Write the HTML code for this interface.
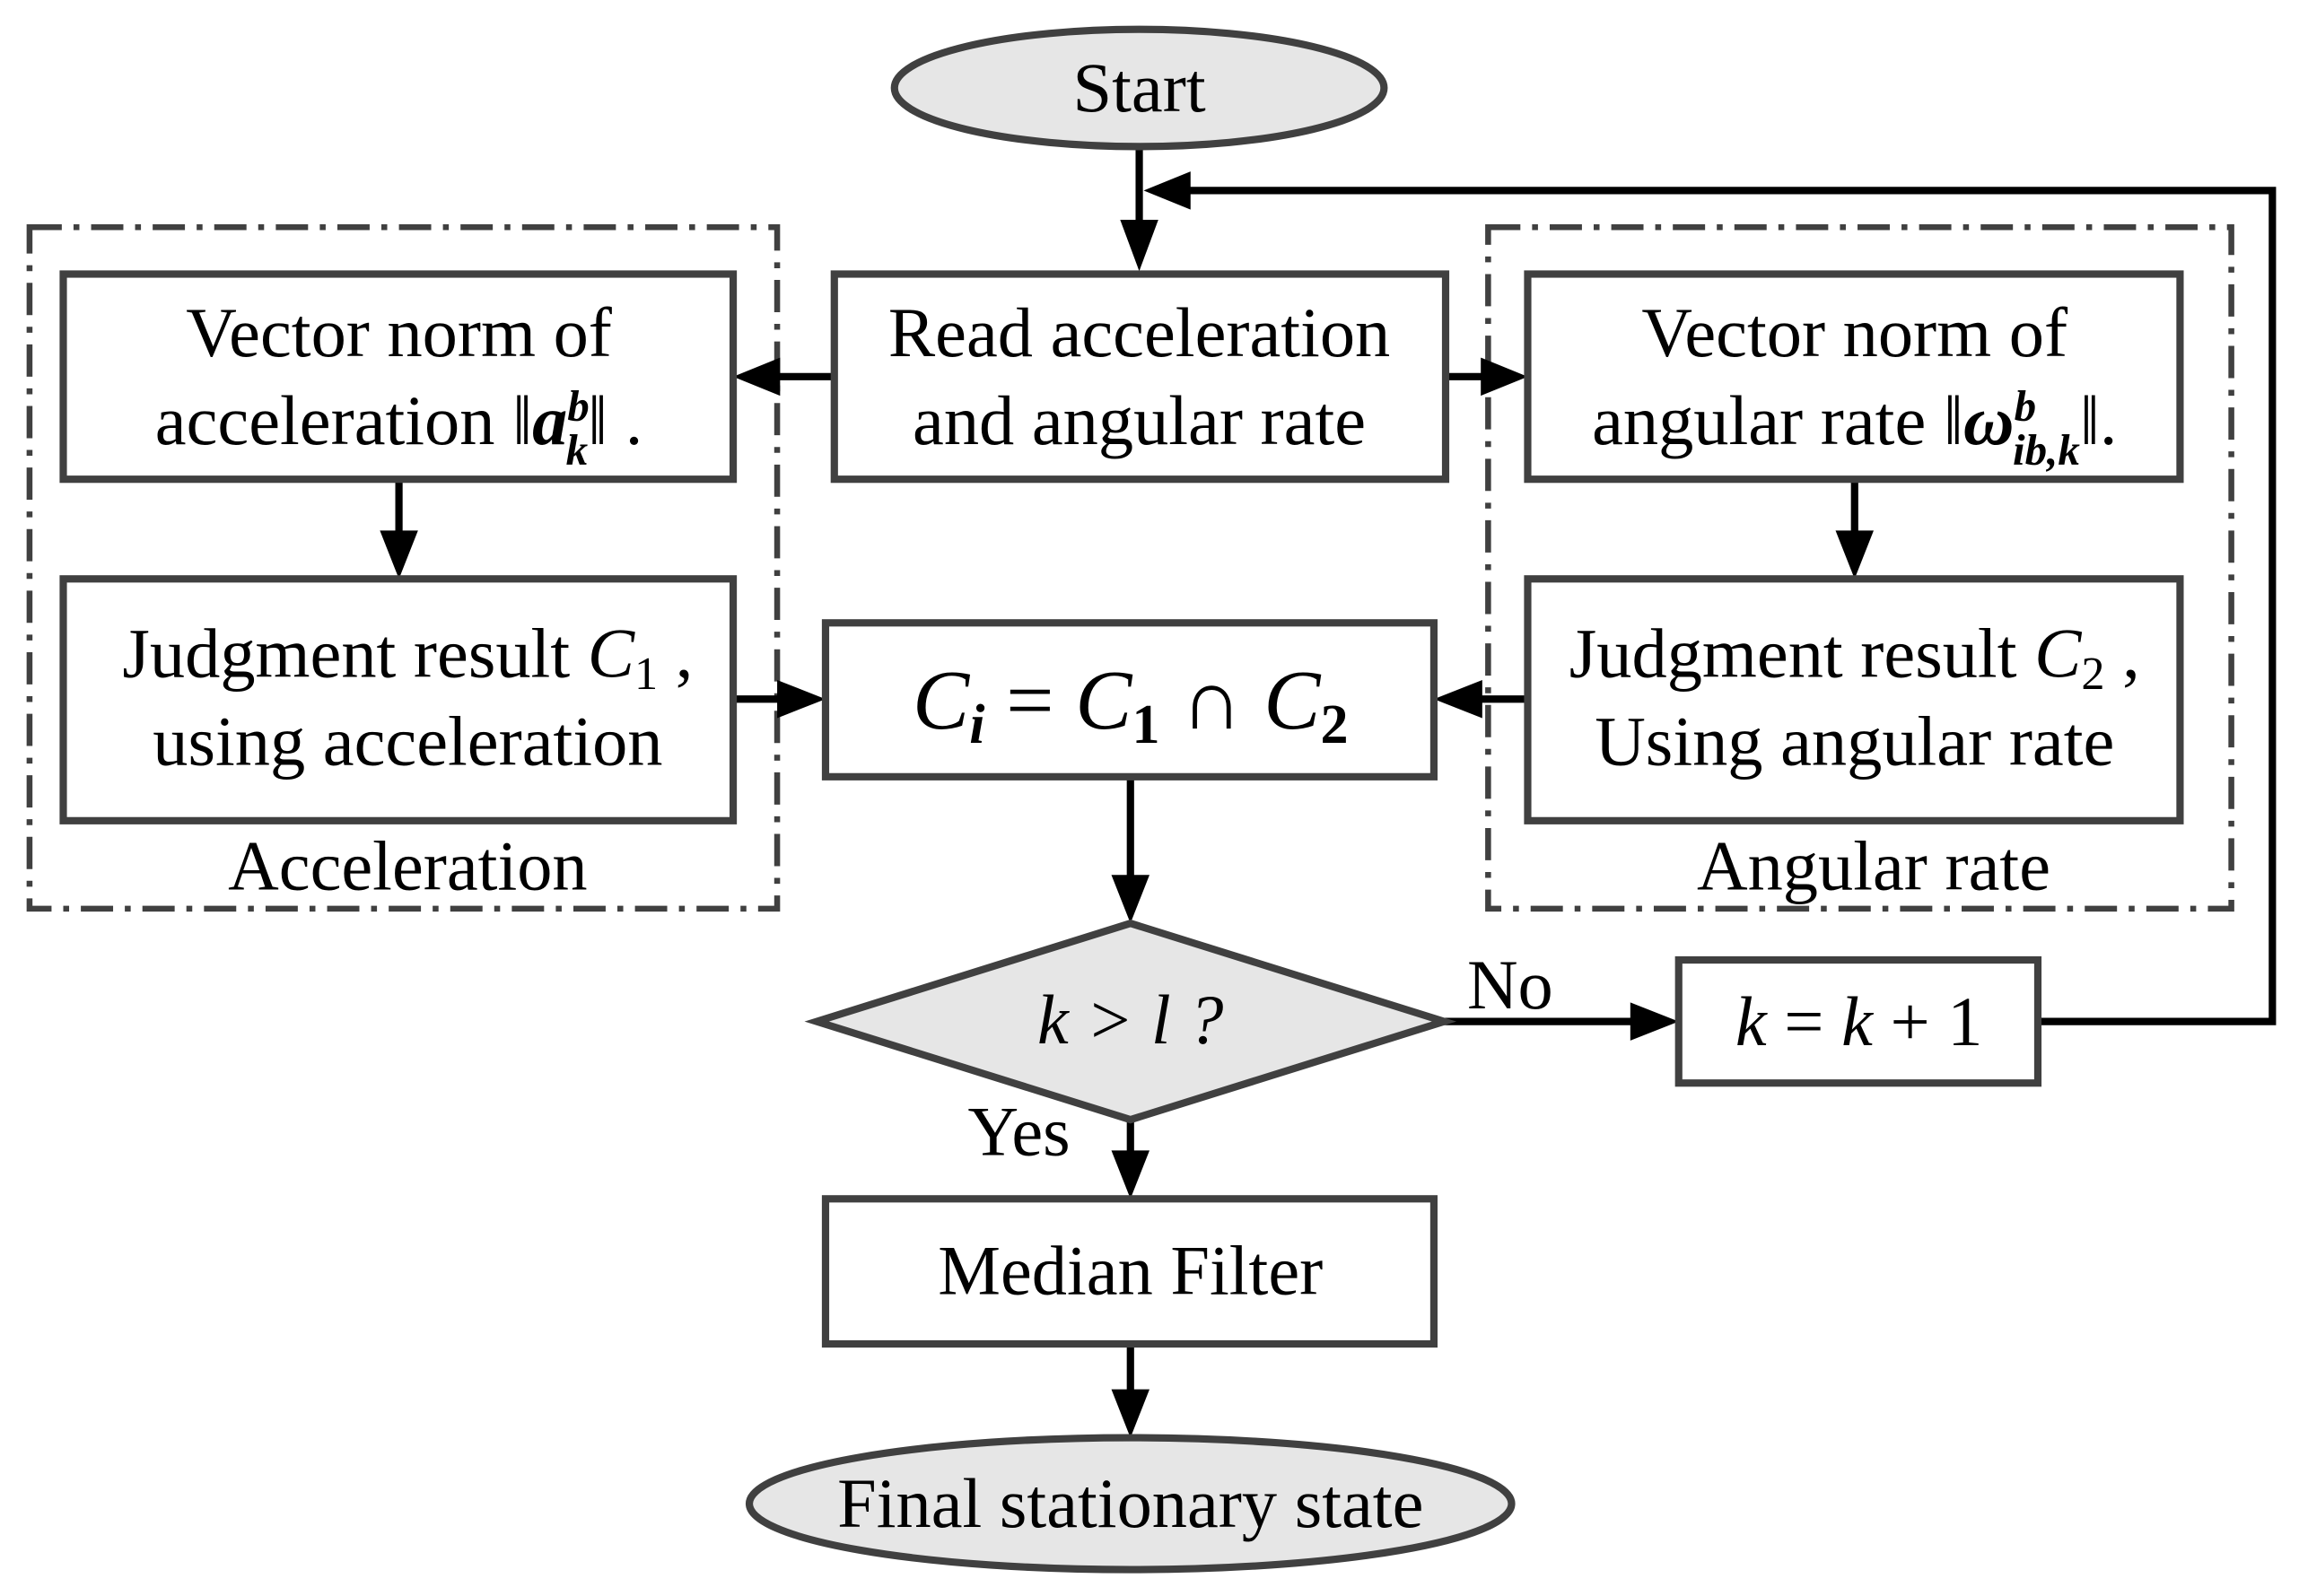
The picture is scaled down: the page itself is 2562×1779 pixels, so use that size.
<!DOCTYPE html>
<html><head><meta charset="utf-8"><style>html,body{margin:0;padding:0;background:#fff}svg{display:block}</style></head>
<body>
<svg width="2562" height="1779" viewBox="0 0 1568 1089" xmlns="http://www.w3.org/2000/svg" font-family="Liberation Serif, serif" font-size="48" text-anchor="middle">
<g fill="none" stroke="#404040" stroke-width="4" stroke-dasharray="22,8,4,8">
<rect x="20" y="155" width="510" height="465"/>
<rect x="1015" y="155" width="507" height="465"/>
</g>
<g stroke="#000" stroke-width="5" fill="none">
<polyline points="1390,697 1550,697 1550,130 790,130"/>
<line x1="777" y1="100" x2="777" y2="160"/>
<line x1="569" y1="257" x2="525" y2="257"/>
<line x1="986" y1="257" x2="1018" y2="257"/>
<line x1="272" y1="327" x2="272" y2="370"/>
<line x1="1265" y1="327" x2="1265" y2="370"/>
<line x1="500" y1="477" x2="538" y2="477"/>
<line x1="1042" y1="477" x2="1003" y2="477"/>
<line x1="771" y1="530" x2="771" y2="605"/>
<line x1="985" y1="697" x2="1120" y2="697"/>
<line x1="771" y1="764" x2="771" y2="793"/>
<line x1="771" y1="917" x2="771" y2="956"/>
</g>
<g fill="#000">
<polygon points="777,185 764,150 790,150"/>
<polygon points="780,130 812,117 812,143"/>
<polygon points="500,257 532,244 532,270"/>
<polygon points="1042,257 1010,244 1010,270"/>
<polygon points="272,395 259,362 285,362"/>
<polygon points="1265,395 1252,362 1278,362"/>
<polygon points="563,477 530,464 530,490"/>
<polygon points="978,477 1011,464 1011,490"/>
<polygon points="771,630 758,597 784,597"/>
<polygon points="1145,697 1112,684 1112,710"/>
<polygon points="771,818 758,785 784,785"/>
<polygon points="771,981 758,948 784,948"/>
</g>
<g stroke="#404040" stroke-width="5" fill="#fff">
<ellipse cx="777" cy="60" rx="167" ry="40" fill="#e6e6e6"/>
<rect x="43" y="187" width="457" height="140"/>
<rect x="569" y="187" width="417" height="140"/>
<rect x="1042" y="187" width="445" height="140"/>
<rect x="43" y="395" width="457" height="165"/>
<rect x="563" y="425" width="415" height="105"/>
<rect x="1042" y="395" width="445" height="165"/>
<polygon points="557,697 771,630 985,697 771,764" fill="#e6e6e6"/>
<rect x="1145" y="655" width="245" height="84"/>
<rect x="563" y="818" width="415" height="99"/>
<ellipse cx="771" cy="1026" rx="260" ry="45" fill="#e6e6e6"/>
</g>
<text x="777" y="76">Start</text>
<text x="272" y="243">Vector norm of</text>
<text x="272" y="303">acceleration ‖<tspan font-weight="bold" font-style="italic">a</tspan><tspan font-size="30" font-weight="bold" font-style="italic" dy="-16">b</tspan><tspan font-size="30" font-weight="bold" font-style="italic" dx="-16" dy="30">k</tspan><tspan dy="-14">‖ .</tspan></text>
<text x="777" y="243">Read acceleration</text>
<text x="777" y="303">and angular rate</text>
<text x="1265" y="243">Vector norm of</text>
<text x="1265" y="303">angular rate ‖<tspan font-weight="bold" font-style="italic">ω</tspan><tspan font-size="30" font-weight="bold" font-style="italic" dy="-16">b</tspan><tspan font-size="30" font-weight="bold" font-style="italic" dx="-16" dy="30">ib,k</tspan><tspan dy="-14">‖.</tspan></text>
<text x="278" y="462">Judgment result <tspan font-style="italic">C</tspan><tspan font-size="32" dy="8">1</tspan><tspan dy="-8"> ,</tspan></text>
<text x="278" y="522">using acceleration</text>
<text x="1265" y="462">Judgment result <tspan font-style="italic">C</tspan><tspan font-size="32" dy="8">2</tspan><tspan dy="-8"> ,</tspan></text>
<text x="1265" y="522">Using angular rate</text>
<text x="771" y="497" font-size="58"><tspan font-style="italic">C</tspan><tspan font-size="38" font-style="italic" font-weight="bold" dy="10">i</tspan><tspan dy="-10"> = </tspan><tspan font-style="italic">C</tspan><tspan font-size="38" font-weight="bold" dy="10">1</tspan><tspan dy="-10"> ∩ </tspan><tspan font-style="italic">C</tspan><tspan font-size="38" font-weight="bold" dy="10">2</tspan></text>
<text x="278" y="607">Acceleration</text>
<text x="1278" y="607">Angular rate</text>
<text x="771" y="712" font-style="italic">k &gt; l ?</text>
<text x="1030" y="688">No</text>
<text x="695" y="788">Yes</text>
<text x="1268" y="713"><tspan font-style="italic">k</tspan> = <tspan font-style="italic">k</tspan> + 1</text>
<text x="771" y="883">Median Filter</text>
<text x="771" y="1042">Final stationary state</text>
</svg>
</body></html>
